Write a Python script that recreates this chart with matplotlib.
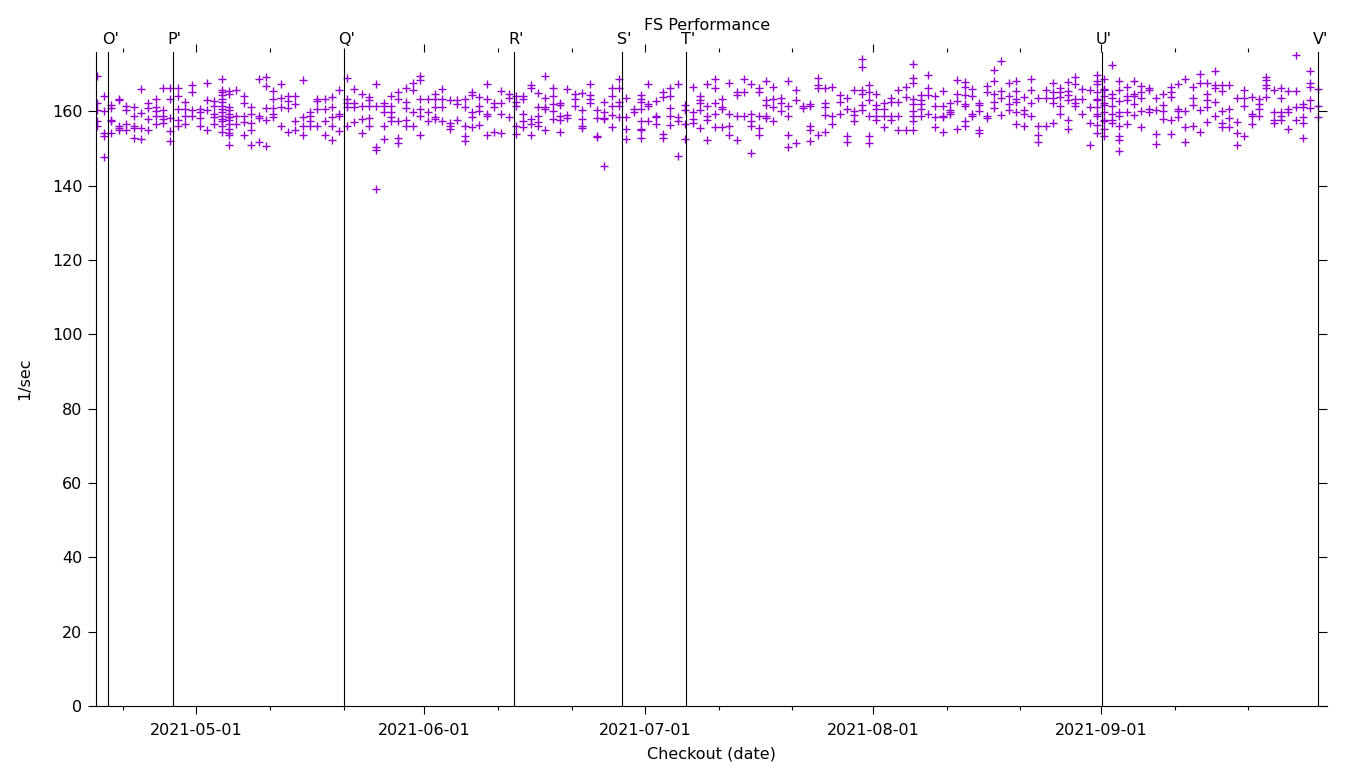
import matplotlib
matplotlib.use("Agg")
import matplotlib.dates as mdates
import matplotlib.pyplot as plt
import pandas as pd
from matplotlib.ticker import FixedLocator, NullFormatter

plt.rcParams["font.family"] = "DejaVu Sans"
plt.rcParams["font.size"] = 11.5

# Checkouts: one column of runs per day, counted from 2021-04-17
START = pd.Timestamp("2021-04-17")
RUN_TIME = pd.Timedelta(hours=10, minutes=48)

run_rates = [
    [169.5, 162.3, 160.3, 157.3, 156.2],
    [164.1, 160.0, 154.2, 153.3, 147.8],
    [161.8, 160.9, 157.8, 157.3, 154.1],
    [163.4, 163.2, 156.2, 155.5, 154.9],
    [161.4, 160.3, 156.7, 154.9],
    [161.1, 158.7, 156.2, 155.6, 152.9],
    [166.0, 159.5, 155.5, 152.6],
    [162.3, 160.9, 158.0, 155.0],
    [163.4, 161.1, 160.2, 158.9, 156.7],
    [166.4, 160.5, 158.9, 158.0, 156.9],
    [166.4, 163.4, 158.3, 154.7, 152.0],
    [166.3, 164.1, 160.7, 157.8, 156.2],
    [162.5, 160.7, 158.9, 156.7],
    [167.0, 165.2, 160.3, 158.9],
    [160.7, 159.8, 158.3, 156.2],
    [167.7, 163.2, 160.3, 155.0],
    [162.7, 161.6, 159.4, 158.5, 156.5],
    [168.8, 165.9, 165.2, 164.3, 163.4, 162.5, 161.6, 160.7, 159.8, 158.9, 158.0, 157.3, 156.2, 154.4],
    [165.6, 164.7, 161.2, 160.3, 159.4, 158.6, 158.5, 157.6, 156.7, 155.3, 154.2, 153.7, 151.0],
    [165.9, 158.9, 156.7],
    [164.1, 162.3, 158.9, 157.1, 153.7],
    [161.2, 159.4, 156.9, 154.9, 151.0],
    [168.8, 158.9, 158.3, 151.7],
    [169.3, 166.8, 160.9, 157.8, 150.8],
    [165.4, 163.4, 160.9, 159.4, 158.6],
    [167.5, 163.7, 161.2, 156.0],
    [164.1, 162.7, 160.9, 154.6],
    [164.1, 162.1, 157.3, 155.1],
    [168.4, 158.5, 156.2, 153.7],
    [159.8, 158.7, 157.3, 156.0],
    [163.4, 162.7, 160.7, 156.2],
    [163.4, 160.7, 157.3, 153.7],
    [163.9, 161.2, 158.6, 156.2, 152.2],
    [165.7, 159.4, 158.7, 154.7],
    [169.1, 163.4, 162.3, 161.2, 156.0],
    [166.0, 162.3, 161.2, 157.1],
    [164.6, 161.6, 158.0, 154.2],
    [163.9, 163.0, 161.4, 158.3, 156.2],
    [167.3, 161.4, 150.5, 149.6, 139.1],
    [162.3, 161.6, 159.8, 156.0, 152.6],
    [164.1, 161.6, 159.8, 158.6, 157.3],
    [165.2, 163.4, 157.3, 152.9, 151.4],
    [166.4, 162.5, 160.9, 157.8, 156.2],
    [167.7, 165.9, 159.8, 156.2],
    [169.5, 168.4, 163.4, 160.7, 158.9, 153.7],
    [163.4, 159.8, 157.3],
    [164.8, 163.4, 161.2, 158.6, 158.0],
    [166.1, 163.4, 161.2, 157.3],
    [163.2, 156.9, 156.2, 155.3],
    [163.2, 161.9, 157.8],
    [163.4, 161.2, 156.2, 153.5, 152.0],
    [165.2, 164.3, 159.8, 158.6, 155.8],
    [163.9, 161.6, 160.1, 156.4],
    [167.3, 163.4, 159.4, 158.7, 153.7],
    [162.3, 161.2, 154.6],
    [165.5, 162.3, 159.4, 154.1],
    [164.8, 163.7, 158.5],
    [164.1, 162.5, 161.4, 156.2, 154.0],
    [164.1, 163.4, 159.4, 157.3, 155.9],
    [167.0, 166.3, 158.0, 156.7, 153.7],
    [165.0, 161.2, 158.7, 157.1, 156.2],
    [169.5, 163.6, 161.2, 160.7, 154.9],
    [166.3, 164.1, 162.1, 160.1, 158.0],
    [162.3, 161.8, 158.7, 157.8, 154.6],
    [166.1, 159.1, 158.2],
    [164.6, 163.4, 161.6],
    [165.0, 160.5, 158.0, 156.2, 155.5],
    [167.5, 164.3, 163.4, 162.3],
    [160.3, 158.2, 153.5, 153.1],
    [162.5, 159.8, 158.2, 158.0, 145.4],
    [166.4, 164.1, 161.4, 159.1, 155.8],
    [168.6, 166.3, 162.5, 161.6, 158.5],
    [163.6, 158.5, 155.3, 152.6],
    [160.7, 159.8],
    [164.5, 163.4, 162.5, 160.7, 157.3, 155.3, 154.9, 152.8],
    [167.5, 162.1, 161.4, 157.3],
    [162.8, 158.9, 158.5, 156.7],
    [165.2, 163.9, 154.0, 152.8],
    [166.4, 164.1, 160.9, 158.9, 156.4],
    [167.3, 158.5, 157.3, 148.1],
    [161.8, 160.5, 156.7, 152.6],
    [166.6, 159.8, 158.0, 156.9],
    [164.1, 163.2, 162.3, 160.3, 155.5],
    [167.3, 161.6, 158.9, 157.8, 152.3],
    [168.6, 166.3, 162.3, 159.4, 155.9],
    [163.4, 161.2, 160.7, 155.9],
    [167.7, 159.4, 156.2, 153.7],
    [165.2, 164.3, 158.9, 152.2],
    [168.8, 165.2, 158.9],
    [167.5, 159.4, 157.3, 156.2, 148.8],
    [166.3, 165.2, 158.9, 155.5, 153.7],
    [168.2, 163.0, 161.8, 158.9, 158.2],
    [166.6, 163.4, 161.2, 157.3],
    [163.6, 162.3, 160.0],
    [168.1, 161.6, 158.9, 153.7, 150.5],
    [165.9, 163.2, 151.5],
    [161.6, 160.9],
    [162.1, 161.4, 156.0, 154.9, 152.0],
    [169.1, 167.2, 166.4, 153.7],
    [166.4, 162.3, 161.2, 159.1, 154.4],
    [166.6, 158.7, 156.7],
    [164.3, 162.5, 159.2],
    [163.6, 160.7, 153.5, 151.7],
    [165.9, 160.1, 159.1, 157.3],
    [174.2, 172.0, 165.9, 164.8, 161.8, 160.3],
    [167.2, 165.2, 163.0, 158.9, 153.3, 151.4],
    [164.8, 161.8, 160.7, 158.9, 157.8],
    [162.3, 160.7, 158.9, 155.8],
    [163.6, 162.5, 158.9, 157.8],
    [165.7, 162.5, 158.9, 155.0],
    [166.6, 163.9, 155.0],
    [172.9, 169.1, 167.7, 163.4, 162.1, 160.0, 158.7, 157.3, 154.9],
    [164.3, 163.0, 162.1, 160.7, 158.9],
    [169.7, 166.4, 164.3, 159.4],
    [164.1, 161.4, 158.6, 155.8],
    [165.5, 161.4, 158.9, 158.5, 154.4],
    [162.3, 160.3, 159.8, 159.2],
    [168.4, 164.8, 162.7, 155.3],
    [167.9, 166.6, 164.3, 162.1, 161.6, 157.3, 156.2],
    [166.1, 164.1, 159.4, 158.7],
    [162.3, 161.8, 160.0, 154.9, 154.2],
    [166.8, 165.2, 158.9, 158.2],
    [171.1, 168.2, 164.8, 162.5, 161.0],
    [173.6, 165.5, 163.7, 159.1],
    [167.7, 164.1, 162.1, 160.5],
    [168.1, 165.5, 163.4, 162.5, 159.8, 156.7],
    [163.9, 160.3, 159.4, 156.2],
    [168.6, 165.9, 162.3, 158.7],
    [163.6, 156.2, 153.7, 151.9],
    [165.9, 163.7, 156.2],
    [167.7, 165.2, 163.6, 162.3, 156.9],
    [166.3, 165.2, 163.9, 161.4, 159.2],
    [167.9, 165.4, 164.5, 163.0, 157.6, 155.3],
    [169.3, 167.5, 163.4, 162.3, 161.4],
    [166.1, 163.4, 159.2],
    [165.7, 161.2, 156.9, 151.0],
    [169.9, 167.3, 165.2, 163.4, 161.2, 158.9, 156.4, 154.2, 163.0, 159.4, 168.1],
    [168.8, 166.1, 164.1, 162.3, 159.8, 157.6, 155.3, 153.3, 161.8, 157.3, 165.7],
    [172.4, 164.6, 163.6, 161.6, 159.4, 157.8, 156.9],
    [168.2, 165.7, 162.7, 159.8, 158.7, 156.0, 153.3, 152.3, 149.3],
    [166.6, 164.1, 163.0, 159.8, 156.5],
    [168.2, 164.8, 164.1, 162.1, 159.1],
    [166.8, 165.2, 163.7, 160.0, 155.8],
    [166.3, 165.7, 160.7, 159.8],
    [163.6, 160.3, 153.8, 151.3],
    [164.8, 161.8, 160.1, 158.0],
    [166.6, 165.2, 163.9, 157.8, 154.0],
    [167.5, 160.7, 160.0, 158.5],
    [168.8, 160.1, 155.8, 151.7],
    [166.6, 163.6, 161.8, 156.2],
    [170.2, 167.7, 160.3, 154.6],
    [167.7, 164.8, 163.2, 161.2, 157.1],
    [170.9, 167.2, 166.3, 162.5, 158.9],
    [167.0, 165.4, 160.0, 156.9, 155.8],
    [167.0, 160.7, 158.2, 155.8],
    [163.6, 157.1, 154.2, 151.0],
    [165.9, 163.6, 161.4, 153.3],
    [163.9, 159.4, 158.7, 156.7],
    [163.4, 162.1, 160.7, 158.7],
    [169.3, 168.4, 167.2, 166.4, 163.9],
    [165.7, 159.8, 157.6, 156.9],
    [166.4, 163.6, 159.8, 158.7, 157.8],
    [165.4, 160.7, 159.8, 155.3],
    [175.1, 165.4, 161.2, 157.6],
    [162.1, 161.2, 158.6, 156.9, 152.9],
    [170.9, 167.7, 166.6, 163.0, 160.9],
    [166.1, 161.6, 158.6],
]

event_labels = ["O'", "P'", "Q'", "R'", "S'", "T'", "U'", "V'"]
event_dates = [
    "2021-04-19 00:00", "2021-04-27 19:00", "2021-05-21 02:00",
    "2021-06-13 05:00", "2021-06-27 22:00", "2021-07-06 14:00",
    "2021-09-01 02:00", "2021-09-30 12:00",
]

tick_labels = ["2021-05-01", "2021-06-01", "2021-07-01", "2021-08-01", "2021-09-01"]
y_ticks = [0, 20, 40, 60, 80, 100, 120, 140, 160]

# Flatten the day columns into points
xs, ys = [], []
for day, rates in enumerate(run_rates):
    when = START + pd.Timedelta(days=day) + RUN_TIME
    for r in rates:
        xs.append(when)
        ys.append(r)

fig = plt.figure(figsize=(13.6, 7.68), dpi=100)
ax = fig.add_axes([96 / 1360, 62 / 768, 1231 / 1360, 654 / 768])

ax.plot(xs, ys, linestyle="none", marker="+", markersize=5.5,
        markeredgewidth=1.0, color="#9400d3")

# Event markers
for label, d in zip(event_labels, event_dates):
    t = pd.Timestamp(d)
    ax.axvline(t, color="black", linewidth=0.8)
    ax.annotate(label, xy=(t, 1), xycoords=("data", "axes fraction"),
                xytext=(2, 12), textcoords="offset pixels",
                ha="center", va="center")

ax.set_xlim(pd.Timestamp("2021-04-17 08:24"), pd.Timestamp("2021-10-01 17:00"))
ax.set_ylim(0, 176)

ax.xaxis.set_major_locator(FixedLocator(mdates.date2num(pd.to_datetime(tick_labels))))
ax.set_xticklabels(tick_labels)
ax.xaxis.set_minor_locator(mdates.DayLocator(bymonthday=[11, 21]))
ax.xaxis.set_minor_formatter(NullFormatter())
ax.set_yticks(y_ticks)

ax.tick_params(axis="x", which="major", direction="out", length=5.5,
               width=0.8, top=True, pad=7)
ax.tick_params(axis="x", which="minor", direction="out", length=3,
               width=0.8, top=True)
ax.tick_params(axis="y", which="major", direction="out", length=5.8,
               width=0.8, pad=4)

# Right side: inward ticks, no labels
ax_r = ax.secondary_yaxis("right")
ax_r.set_yticks(y_ticks)
ax_r.tick_params(direction="in", length=6.5, width=0.8, labelright=False)
ax_r.spines["right"].set_visible(False)

for side in ("top", "right"):
    ax.spines[side].set_visible(False)
for side in ("left", "bottom"):
    ax.spines[side].set_linewidth(0.8)

ax.set_xlabel("Checkout (date)", labelpad=6)
ax.set_ylabel("1/sec", labelpad=14)
fig.text(707 / 1360, 1 - 25 / 768, "FS Performance", ha="center", va="center")

fig.savefig("out.png", dpi=100)
